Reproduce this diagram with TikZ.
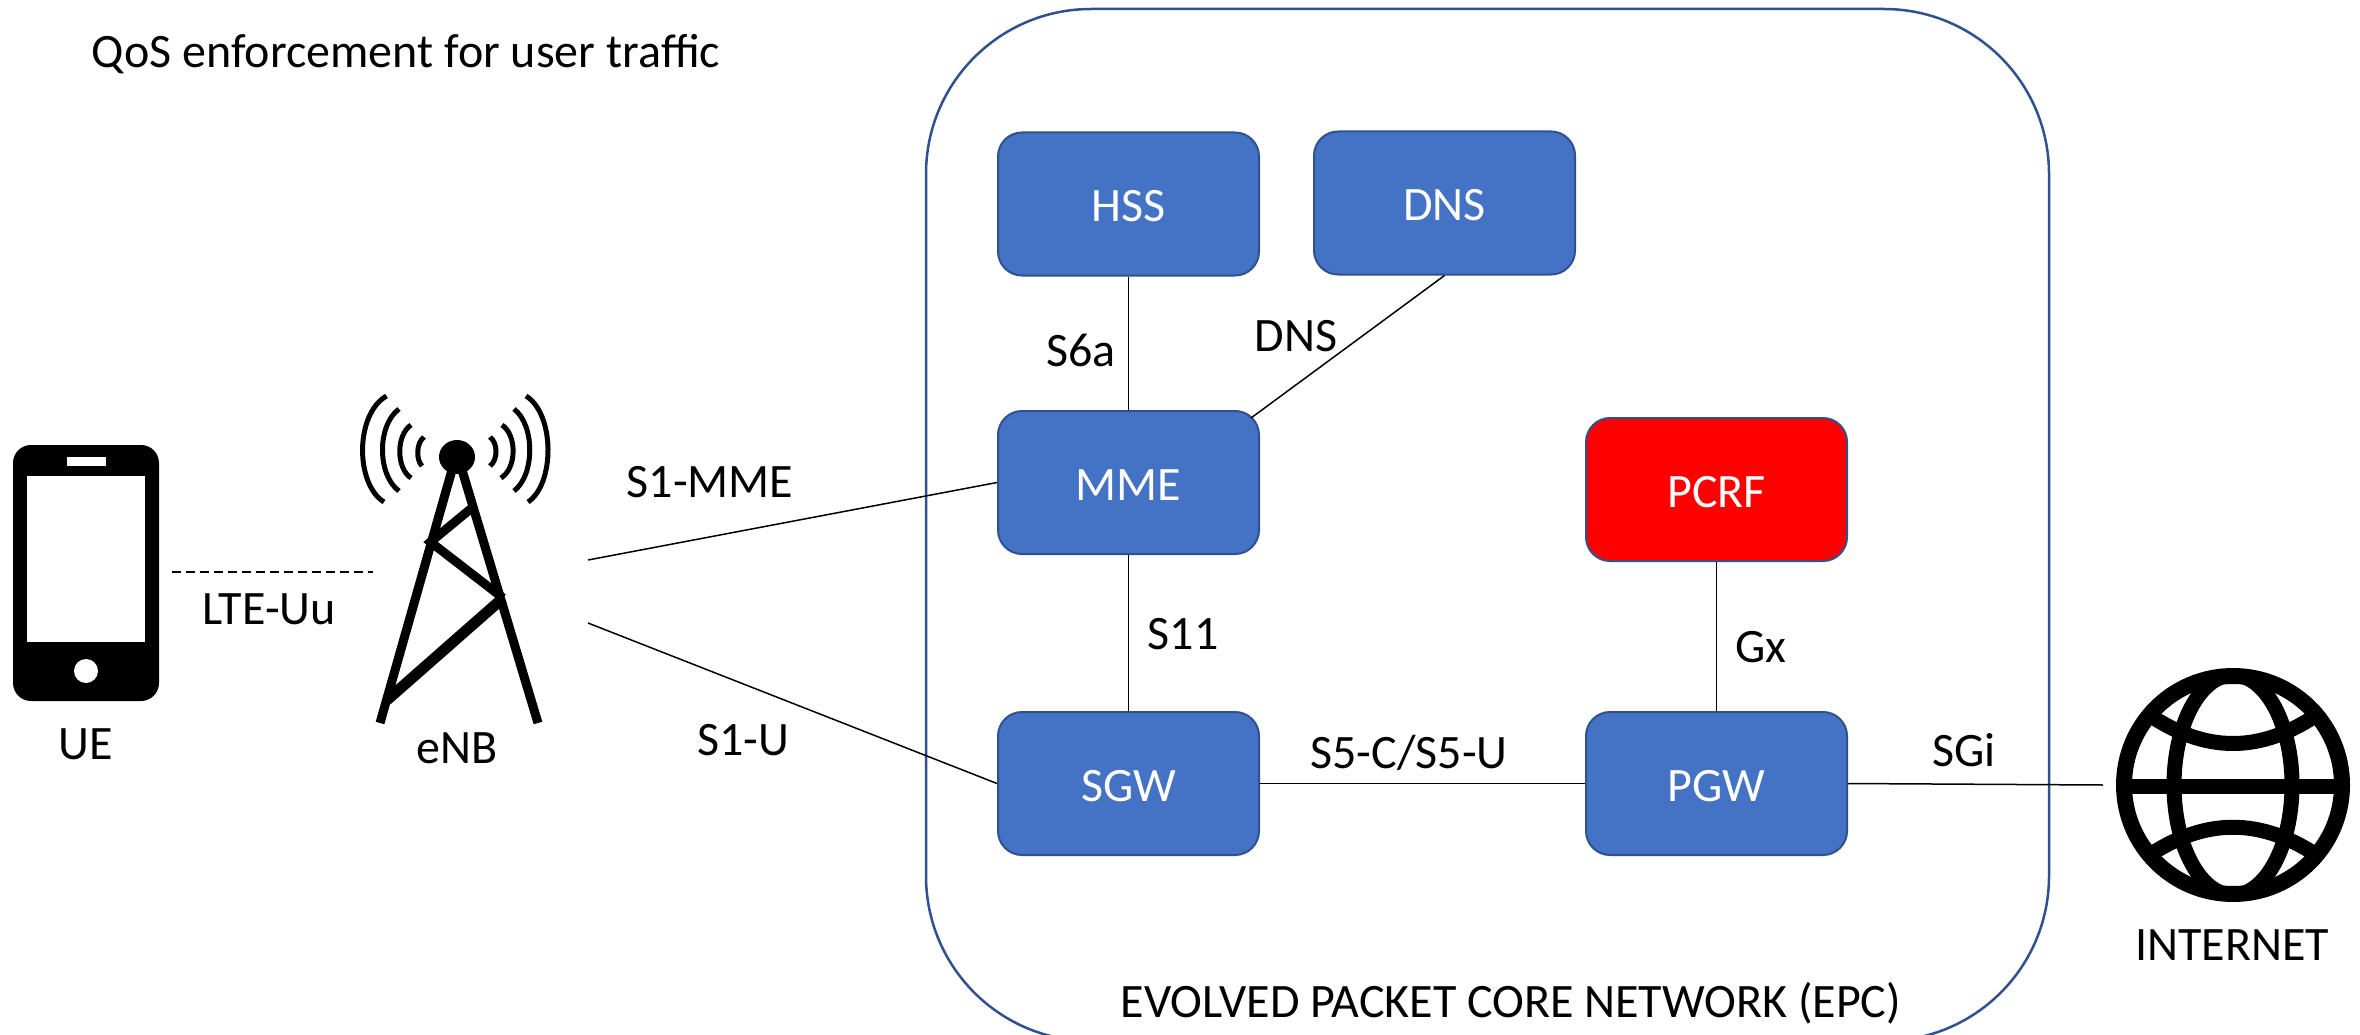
\documentclass[tikz,border=0pt]{standalone}
\usepackage{fontspec}
\setmainfont{Carlito}
\definecolor{boxblue}{HTML}{4472C4}
\definecolor{edgeblue}{HTML}{2F528F}
\begin{document}
\begin{tikzpicture}[x=1pt,y=-1pt,
  lbl/.style={font=\fontsize{48}{58}\selectfont,inner sep=0pt,text=black},
  netbox/.style={draw=edgeblue,line width=2pt,fill=boxblue,rounded corners=24pt,minimum width=261pt,minimum height=143pt,inner sep=0pt,text=white,text height=36pt,text depth=0pt,font=\fontsize{48}{58}\selectfont},
  link/.style={draw=black,line width=1.5pt},
  ink/.style={draw=black,line cap=butt},
  wave/.style={draw=black,line width=5pt,line cap=butt}]
\useasboundingbox (0,0) rectangle (2360,1035);
\fill[white] (0,0) rectangle (2360,1035);
% EPC outline, runs past the lower edge
\begin{scope}
\clip (0,0) rectangle (2360,1035);
\draw[edgeblue,line width=2.5pt,rounded corners=165pt] (926,9) rectangle (2049,1041);
\end{scope}
% boxes
\node[netbox] (hss) at (1128.5,204) {HSS};
\node[netbox] (dns) at (1444.5,203) {DNS};
\node[netbox] (mme) at (1128.5,482.5) {MME};
\node[netbox] (sgw) at (1128.5,783.5) {SGW};
\node[netbox,fill=red] (pcrf) at (1716.5,489.5) {PCRF};
\node[netbox] (pgw) at (1716.5,783.5) {PGW};
% free connector ends
\coordinate (enbA) at (588,560);
\coordinate (enbB) at (588,623);
\coordinate (mmeCorner) at (1251,418);
\coordinate (netIn) at (2103,785);
\coordinate (ueR) at (172,572);
\coordinate (enbL) at (373,572);
\draw[link] (hss.south) -- (mme.north);
\draw[link] (dns.south) -- (mmeCorner);
\draw[link] (mme.south) -- (sgw.north);
\draw[link] (enbA) -- (mme.west);
\draw[link] (enbB) -- (sgw.west);
\draw[link] (sgw.east) -- (pgw.west);
\draw[link] (pcrf.south) -- (pgw.north);
\draw[link] (pgw.east) -- (netIn);
\draw[link,dash pattern=on 9pt off 5pt] (ueR) -- (enbL);
% phone
\fill[black,rounded corners=18pt] (13,445) rectangle (159,701);
\fill[white] (27,476) rectangle (145,642);
\fill[white] (67,457) rectangle (106,466);
\fill[white] (86,671) circle (12);
% tower
\fill[black] (457,457) ellipse (18 and 17);
\draw[ink,line width=9pt] (452,470) -- (380,723);
\draw[ink,line width=9pt] (462,470) -- (538,723);
\draw[ink,line width=9pt] (473,507) -- (430.5,542) -- (503,598);
\draw[ink,line width=11pt] (503,598) -- (387,700);
\draw[wave] (386.5,396) .. controls (355,414) and (355,484) .. (384,502);
\draw[wave] (399,409) .. controls (377,425) and (377,475) .. (399,491);
\draw[wave] (411,425) .. controls (396,435) and (396,468) .. (411,478);
\draw[wave] (424,437) .. controls (416,443) and (416,460) .. (422,466);
\draw[wave] (526,396) .. controls (555,414) and (555,484) .. (528,502);
\draw[wave] (514,409) .. controls (535,425) and (535,475) .. (514,491);
\draw[wave] (502,425) .. controls (517,435) and (517,468) .. (501,478);
\draw[wave] (490,437) .. controls (498,443) and (498,460) .. (490,466);
% globe
\begin{scope}
\clip (2233,785) circle (112);
\draw[ink,line width=15pt] (2233,785) ellipse (59 and 110);
\draw[ink,line width=15pt] (2116,786) -- (2350,786);
\draw[ink,line width=15pt] (2145,712) .. controls (2205,754) and (2261,754) .. (2321,712);
\draw[ink,line width=15pt] (2145,858) .. controls (2205,817) and (2261,817) .. (2321,858);
\end{scope}
\draw[ink,line width=16pt] (2233,785) circle (109);
% labels
\node[lbl] (title) at (406,54) {QoS enforcement for user traffic};
\node[lbl] (lte) at (269,609) {LTE-Uu};
\node[lbl] (ue) at (86,744) {UE};
\node[lbl] (enb) at (457,748) {eNB};
\node[lbl] (s1m) at (710,482) {S1-MME};
\node[lbl] (s1u) at (743,740) {S1-U};
\node[lbl] (s6a) at (1081,350) {S6a};
\node[lbl] (dnsl) at (1296,336) {DNS};
\node[lbl] (s11) at (1183,634) {S11};
\node[lbl] (gx) at (1761,647) {Gx};
\node[lbl] (s5) at (1409,753) {S5-C/S5-U};
\node[lbl] (sgi) at (1964,750) {SGi};
\node[lbl] (inet) at (2232,945) {INTERNET};
\node[lbl] (epc) at (1511,1003) {EVOLVED PACKET CORE NETWORK (EPC)};
\end{tikzpicture}
\end{document}
